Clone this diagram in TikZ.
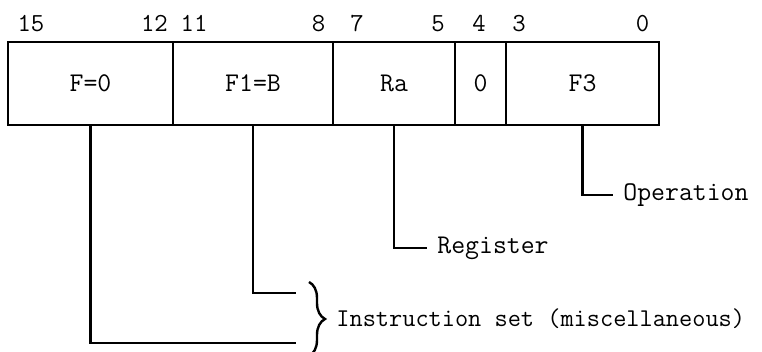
\documentclass[tikz,border=0pt]{standalone}
\usetikzlibrary{positioning,decorations.pathreplacing}
\begin{document}
\begin{tikzpicture}[
  x=0.5pt, y=-0.5pt,
  field/.style={draw,line width=1.1pt,minimum height=41.5pt,inner sep=0pt,
                outer sep=0pt,font=\fontsize{13.5}{16}\selectfont\ttfamily},
  bitno/.style={anchor=base,inner sep=0pt,
                font=\fontsize{13}{16}\selectfont\ttfamily},
  lead/.style={line width=1.1pt},
  lbl/.style={anchor=west,inner xsep=5pt,inner ysep=0pt,
              font=\fontsize{13.5}{16}\selectfont\ttfamily},
]
\useasboundingbox (0,0) rectangle (762,352);

%% ── Instruction word fields ─────────────────────────────────────────────────
\node[field,minimum width=82.5pt] (F) at (90.5,83.5) {F=0};
\node[field,minimum width=80pt,right=0pt of F] (F1) {F1=B};
\node[field,minimum width=61pt,right=0pt of F1] (Ra) {Ra};
\node[field,minimum width=25.5pt,right=0pt of Ra] (Z) {0};
\node[field,minimum width=76.5pt,right=0pt of Z] (F3) {F3};

%% ── Bit numbers ─────────────────────────────────────────────────────────────
\node[bitno] (b15) at (31,32) {15};
\node[bitno] (b12) at (154.5,32) {12};
\node[bitno] (b11) at (194,32) {11};
\node[bitno] (b8) at (318.5,32) {8};
\node[bitno] (b7) at (357,32) {7};
\node[bitno] (b5) at (438,32) {5};
\node[bitno] (b4) at (479,32) {4};
\node[bitno] (b3) at (519,32) {3};
\node[bitno] (b0) at (642.5,32) {0};

%% ── Field leads ─────────────────────────────────────────────────────────────
\node[lbl] (op) at (613,195) {Operation};
\draw[lead] (F3.south) |- (op.west);

\node[lbl] (reg) at (427,248) {Register};
\draw[lead] (Ra.south) |- (reg.west);

\coordinate (iTop) at (296,293);
\coordinate (iBot) at (296,343);
\draw[lead] (F1.south) |- (iTop);
\draw[lead] (F.south) |- (iBot);

%% ── Instruction set brace ───────────────────────────────────────────────────
\coordinate (brTop) at (309,282);
\coordinate (brBot) at (309,356);
\draw[line width=1.2pt,decorate,decoration={brace,amplitude=8pt}]
  (brTop) -- (brBot);
\node[lbl,font=\fontsize{12.8}{16}\selectfont\ttfamily] (iset) at (326,319)
  {Instruction set (miscellaneous)};

\end{tikzpicture}
\end{document}
